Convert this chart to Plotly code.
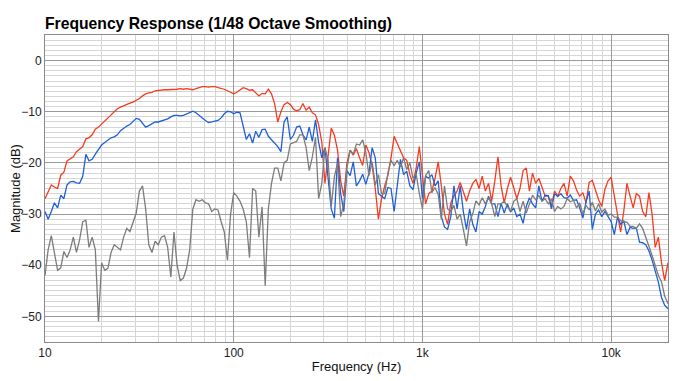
import plotly.graph_objects as go

freq_hz = [
    10, 10.39, 10.8, 11.22, 11.66, 12.12, 12.59, 13.08, 13.59, 14.13,
    14.68, 15.26, 15.85, 16.47, 17.11, 17.78, 18.48, 19.2, 19.95, 20.73,
    21.54, 22.39, 23.26, 24.18, 25.12, 26.1, 27.12, 28.18, 29.29, 30.44,
    31.62, 32.86, 34.15, 35.48, 36.87, 38.31, 39.81, 41.37, 42.99, 44.67,
    46.42, 48.23, 50.12, 52.08, 54.12, 56.23, 58.43, 60.72, 63.1, 65.56,
    68.13, 70.79, 73.56, 76.44, 79.43, 82.54, 85.77, 89.13, 92.61, 96.24,
    100, 103.9, 108, 112.2, 116.6, 121.2, 125.9, 130.8, 135.9, 141.3,
    146.8, 152.6, 158.5, 164.7, 171.1, 177.8, 184.8, 192, 199.5, 207.3,
    215.4, 223.9, 232.6, 241.8, 251.2, 261, 271.2, 281.8, 292.9, 304.4,
    316.2, 328.6, 341.5, 354.8, 368.7, 383.1, 398.1, 413.7, 429.9, 446.7,
    464.2, 482.3, 501.2, 520.8, 541.2, 562.3, 584.3, 607.2, 631, 655.6,
    681.3, 707.9, 735.6, 764.4, 794.3, 825.4, 857.7, 891.3, 926.1, 962.4,
    1000, 1039, 1080, 1122, 1166, 1212, 1259, 1308, 1359, 1413,
    1468, 1526, 1585, 1647, 1711, 1778, 1848, 1920, 1995, 2073,
    2154, 2239, 2326, 2418, 2512, 2610, 2712, 2818, 2929, 3044,
    3162, 3286, 3415, 3548, 3687, 3831, 3981, 4137, 4299, 4467,
    4642, 4823, 5012, 5208, 5412, 5623, 5843, 6072, 6310, 6556,
    6813, 7079, 7356, 7644, 7943, 8254, 8577, 8913, 9261, 9624,
    10000, 10390, 10800, 11220, 11660, 12120, 12590, 13080, 13590, 14130,
    14680, 15260, 15850, 16470, 17110, 17780, 18480, 19200, 20000,
]

red_db = [
    -27, -25.5, -24.3, -24.7, -25, -22.4, -21.8, -19.6, -19.2, -18.8,
    -17.8, -17.3, -16.8, -15.3, -15.1, -14.5, -13.4, -13, -12.4, -11.8,
    -11.3, -10.7, -10, -9.4, -9.1, -8.8, -8.6, -8.3, -8.1, -7.8,
    -7.4, -6.9, -6.5, -6.3, -6.2, -5.9, -5.8, -5.8, -5.7, -5.7,
    -5.7, -5.6, -5.6, -5.5, -5.6, -5.5, -5.6, -5.7, -5.5, -5.3,
    -5.1, -5.1, -5.2, -5.1, -5.1, -5.3, -5.4, -5.6, -5.9, -6.2,
    -6.5, -6.2, -5.7, -5.3, -5.5, -5.8, -5.7, -6.3, -6.9, -6.4,
    -6.5, -5.6, -6.5, -8.4, -12, -10, -8.6, -8.2, -8.6, -9.5,
    -9.8, -9.6, -8.4, -9.7, -9.1, -10.2, -10.6, -12.5, -16, -24,
    -19, -13.2, -14.6, -17.5, -23.5, -26.5, -20, -17.5, -18.5, -17.2,
    -19, -20.5, -16.5, -18, -20.5, -25, -31, -27, -24.5, -22.5,
    -19, -14.8, -16.2, -17.5, -19, -19.5, -22.3, -24, -21, -16.8,
    -22.7, -28, -26, -25.5, -23, -19.8, -24.5, -30, -32, -27.8,
    -26.5, -25.5, -23.8, -25.5, -27.5, -25.5, -24, -23.2, -25, -22.6,
    -25.5, -24, -27.5, -23.5, -18.8, -24.5, -27.8, -25, -22.8, -24.8,
    -27, -25, -21.5, -21, -25.5, -22, -24, -23, -25, -26.5,
    -26.5, -28.4, -25.5, -26.5, -25, -24, -26.5, -22.6, -23.5, -25.3,
    -26.5, -25.8, -27.8, -23.8, -23.4, -25.5, -27.2, -28.5, -25.2, -23.5,
    -22.8, -26.5, -30, -33.5, -29.5, -24, -26.5, -28.8, -26, -26.5,
    -29.5, -30.5, -25.8, -30, -36.5, -34.5, -39.5, -43, -39.5,
]

blue_db = [
    -29.5, -31, -29.5, -27.8, -28.8, -26.3, -27, -24.3, -23.7, -23.6,
    -23.9, -24, -22.6, -18.3, -19.6, -19.3, -18.3, -17.3, -16.5, -16,
    -15.6, -15.1, -14.9, -14.5, -13.7, -13.2, -12.8, -12.5, -11.8, -11.3,
    -11.5, -12.3, -13, -12.7, -12.3, -12, -12, -11.8, -11.7, -11.4,
    -11, -10.7, -10.7, -10.8, -10.7, -10.4, -10.2, -9.9, -10.2, -10.8,
    -11.2, -11.7, -12.1, -12, -11.9, -11.7, -11.2, -10.4, -9.9, -10,
    -10.4, -10.1, -10.2, -12.5, -15.4, -14.3, -16.1, -13.8, -15, -13.5,
    -13.4, -14.8, -15.5, -16.1, -16.8, -17.8, -12, -11, -15.4, -14.6,
    -13, -12.8, -14.5, -15.5, -13, -15.8, -11.6, -16, -19, -17,
    -23, -29, -30.8, -19, -26, -29.5, -21.5, -22.5, -19.8, -24.5,
    -23.5, -22.2, -24.2, -22, -17, -19, -26, -26.5, -27, -24.8,
    -25, -29.5, -24, -19.3, -22.3, -21.6, -24.5, -25.2, -22, -19.8,
    -27, -22.6, -23, -22.3, -24.5, -23.5, -30.5, -32.5, -33, -30.5,
    -24.5, -29, -24.5, -29.5, -33, -29, -32, -33.5, -29.5, -30,
    -28.5, -26.5, -28, -28, -30.5, -27.9, -29.8, -28, -29.6, -28.8,
    -30.5, -30, -31.8, -28.5, -26.8, -28, -28.8, -24.5, -27.5, -26.3,
    -26.4, -29, -26, -26.6, -26, -26.8, -26.9, -26.3, -27.3, -27.2,
    -28.8, -30.8, -27.6, -25.5, -33, -30, -29.2, -30.5, -29.5, -30.6,
    -31.5, -34, -30.6, -32, -31.3, -34, -32.6, -32.8, -32.7, -35.5,
    -35.6, -36, -37.2, -39, -41.3, -43.3, -46.3, -47.8, -48.5,
]

gray_db = [
    -42, -37, -34.2, -37.3, -41, -40.5, -37.3, -38.5, -37, -34.5,
    -37.5, -35, -31.5, -31.2, -36.5, -34.5, -37, -51, -39.5, -41,
    -40.6, -37.5, -36, -36.5, -37, -34.5, -32.8, -33.4, -31.5, -29.8,
    -25.5, -24.5, -29, -36, -37.5, -35.3, -36, -34.5, -34.2, -36.5,
    -42.3, -33.5, -40, -43, -42.5, -40.6, -37, -29, -27.2, -27.5,
    -27.2, -27.8, -28, -29.5, -29, -29.2, -31.5, -33.5, -39, -30,
    -25.8, -26.5, -27.5, -29, -31.5, -38.5, -25, -25.5, -34.5, -28.6,
    -44, -29, -24, -21, -21, -23.5, -20, -19.5, -16.3, -16,
    -15.8, -14.5, -14.5, -17, -21.5, -18.8, -15, -27, -24, -17,
    -19.5, -28.5, -22.7, -20, -30.5, -28, -21, -17.5, -18.3, -16.3,
    -16.5, -15.5, -18, -22.5, -19.8, -24.3, -22.3, -26, -26, -22,
    -19.5, -20.5, -19.5, -20.8, -19, -21.3, -20, -23, -22.2, -26,
    -29, -22.5, -21.5, -25.8, -24.8, -26.2, -31, -24.5, -29, -29.5,
    -28.3, -31, -30, -33, -36.2, -31.6, -29.9, -27.4, -28.2, -26.8,
    -28, -26.8, -28, -30.5, -28, -28, -27.5, -28.5, -29.5, -27.5,
    -27, -29.5, -27.5, -29.8, -28, -26.3, -27.2, -26.4, -27.5, -27,
    -28, -27, -29.5, -28.5, -29, -28.5, -27, -27.6, -27.3, -28.8,
    -27.8, -30, -28.3, -29.2, -27.7, -29.4, -28, -29.6, -29, -30.2,
    -30, -30.6, -30.6, -31.3, -31.5, -31.6, -32.4, -32.4, -32.8, -31.9,
    -32.8, -34.4, -36.3, -38.1, -40, -42, -43.2, -46, -47.5,
]

assert len(freq_hz) == len(red_db) == len(blue_db) == len(gray_db), (
    len(freq_hz), len(red_db), len(blue_db), len(gray_db))

series = [
    ("Red", red_db, "#f73b1f"),
    ("Blue", blue_db, "#1f5fd8"),
    ("Gray", gray_db, "#7c7c7c"),
]

fig = go.Figure()
for name, vals, col in series:
    fig.add_trace(go.Scatter(x=freq_hz, y=vals, mode="lines", name=name,
                             line=dict(color=col, width=1.3)))

# The page body has an 8px default margin, so the figure is sized to fill
# the 700x381 window from that offset.
W, H = 692, 373
FONT = "Liberation Sans, Arial, Helvetica, sans-serif"
fig.update_layout(
    width=W, height=H,
    margin=dict(l=37, r=32, t=27, b=39, autoexpand=False),
    paper_bgcolor="white", plot_bgcolor="white",
    showlegend=False,
    font=dict(family=FONT, size=12, color="#222"),
    title=dict(text="<b>Frequency Response (1/48 Octave Smoothing)</b>",
               x=0, xanchor="left", xref="paper",
               y=1 - 16 / H, yanchor="middle", yref="container",
               font=dict(family=FONT, size=15.7, color="#000")),
)

fig.update_xaxes(
    type="log", range=[1, 4.30103], dtick=1, tickformat="~s", automargin=False,
    showgrid=True, gridcolor="#9a9a9a", gridwidth=1,
    minor=dict(dtick="D1", showgrid=True, gridcolor="#d6d6d6", gridwidth=1),
    showline=True, linecolor="#8a8a8a", linewidth=1, mirror=True,
    ticks="", tickfont=dict(size=12, color="#222"),
    title=dict(text="Frequency (Hz)", font=dict(size=13, color="#111"), standoff=2),
    zeroline=False,
)
fig.update_yaxes(
    range=[-55, 5], dtick=10, tick0=0, automargin=False,
    showgrid=True, gridcolor="#9a9a9a", gridwidth=1,
    minor=dict(dtick=1, showgrid=True, gridcolor="#d6d6d6", gridwidth=1),
    showline=True, linecolor="#8a8a8a", linewidth=1, mirror=True,
    ticks="", tickfont=dict(size=12, color="#222"),
    title=dict(text="Magnitude (dB)", font=dict(size=13, color="#111"), standoff=4),
    zeroline=False,
)

fig.write_html("out.html")
